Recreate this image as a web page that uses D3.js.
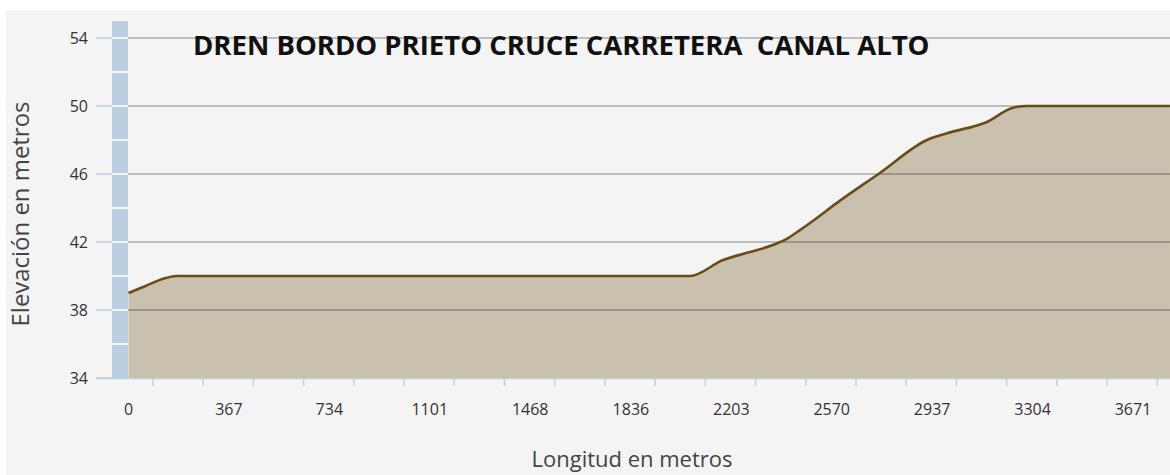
<!DOCTYPE html>
<html>
<head>
<meta charset="utf-8">
<script src="https://cdn.jsdelivr.net/npm/d3@7"></script>
<style>
  html, body { margin: 0; padding: 0; background: #ffffff; }
  svg { display: block; }
  text { font-family: "Open Sans", "Noto Sans", sans-serif; }
</style>
</head>
<body>
<script>
// perfil de elevacion
let distancias  = [0, 60, 130, 175, 600, 1200, 1800, 2052, 2173, 2271, 2355, 2407, 2454, 2502, 2589, 2746, 2918, 2991, 3137, 3232, 3284, 3400, 3806];
let elevaciones = [39, 39.4, 39.85, 40, 40, 40, 40, 40, 40.94, 41.41, 41.82, 42.2, 42.7, 43.25, 44.3, 46.06, 48.0, 48.4, 49.06, 49.9, 50, 50, 50];

let etiquetasX = [0, 367, 734, 1101, 1468, 1836, 2203, 2570, 2937, 3304, 3671];
let etiquetasY = [34, 38, 42, 46, 50, 54];
let titulo = "DREN BORDO PRIETO CRUCE CARRETERA\u00a0\u00a0CANAL ALTO";

let width = 1170, height = 475;

let svg = d3.select("body").append("svg")
            .attr("width", width)
            .attr("height", height);

// fondo
svg.append("rect")
   .attr("x", 6).attr("y", 10)
   .attr("width", width - 6).attr("height", height - 10)
   .attr("fill", "#f4f4f4");

let x = d3.scaleLinear().domain([0, 3671]).range([128.5, 1133]);
let y = d3.scaleLinear().domain([34, 55]).range([378, 21]);

let datos = distancias.map(function(d, i) { return {dist: d, elev: elevaciones[i]}; });

// linea base del eje x (azul claro)
svg.append("line")
   .attr("x1", 96).attr("x2", width)
   .attr("y1", y(34) + 0.5).attr("y2", y(34) + 0.5)
   .attr("stroke", "#bcd0e2").attr("stroke-width", 1.5);

// area
let area = d3.area()
             .x(function(d) { return x(d.dist); })
             .y0(y(34))
             .y1(function(d) { return y(d.elev); })
             .curve(d3.curveMonotoneX);

svg.append("path")
   .datum(datos)
   .attr("d", area)
   .attr("fill", "#c9c0ae");

// lineas de cuadricula
etiquetasY.filter(function(v) { return v > 34; }).forEach(function(v) {
  svg.append("line")
     .attr("x1", 128).attr("x2", width)
     .attr("y1", y(v)).attr("y2", y(v))
     .attr("stroke", "#000").attr("stroke-opacity", 0.3)
     .attr("stroke-width", 1.4);
});

// barra azul del eje y
svg.append("rect")
   .attr("x", 112).attr("y", y(55))
   .attr("width", 16).attr("height", y(34) - y(55))
   .attr("fill", "#bccfe0");

d3.range(36, 55, 2).forEach(function(v) {
  svg.append("line")
     .attr("x1", 112).attr("x2", 128)
     .attr("y1", y(v)).attr("y2", y(v))
     .attr("stroke", "#ffffff").attr("stroke-width", 1.6);
});

// marcas del eje y
etiquetasY.forEach(function(v) {
  svg.append("line")
     .attr("x1", 96).attr("x2", 112)
     .attr("y1", y(v)).attr("y2", y(v))
     .attr("stroke", "#bcd0e2").attr("stroke-width", 1.5);
  svg.append("text")
     .attr("x", 88).attr("y", y(v))
     .attr("dy", "0.35em")
     .attr("text-anchor", "end")
     .attr("font-size", 16)
     .attr("fill", "#333")
     .text(v);
});

// marcas del eje x (desplazadas respecto a las etiquetas, como en el original)
d3.range(89.5, 3806, 183.5).forEach(function(v) {
  svg.append("line")
     .attr("x1", x(v)).attr("x2", x(v))
     .attr("y1", y(34) + 1).attr("y2", y(34) + 8)
     .attr("stroke", "#bcd0e2").attr("stroke-width", 1.5);
});

etiquetasX.forEach(function(v) {
  svg.append("text")
     .attr("x", x(v)).attr("y", 415)
     .attr("text-anchor", "middle")
     .attr("font-size", 16)
     .attr("fill", "#333")
     .text(v);
});

// linea del perfil
let linea = d3.line()
              .x(function(d) { return x(d.dist); })
              .y(function(d) { return y(d.elev); })
              .curve(d3.curveMonotoneX);

svg.append("path")
   .datum(datos)
   .attr("d", linea)
   .attr("fill", "none")
   .attr("stroke", "#6b4c17")
   .attr("stroke-width", 2.6);

// ajusta el tamano de fuente para que el texto ocupe el ancho del original
function ajustar(t, ancho) {
  let w = t.node().getComputedTextLength();
  let fs = +t.attr("font-size");
  t.attr("font-size", fs * ancho / w);
}

let tit = svg.append("text")
             .attr("x", 193).attr("y", 55)
             .attr("font-size", 20)
             .attr("font-weight", "bold")
             .attr("fill", "#111")
             .text(titulo);
ajustar(tit, 737);

let ty = svg.append("text")
            .attr("transform", "translate(29," + 214 + ") rotate(-90)")
            .attr("text-anchor", "middle")
            .attr("font-size", 16)
            .attr("fill", "#444")
            .text("Elevación en metros");
ajustar(ty, 225);

let tx = svg.append("text")
            .attr("x", 632).attr("y", 467)
            .attr("text-anchor", "middle")
            .attr("font-size", 16)
            .attr("fill", "#444")
            .text("Longitud en metros");
ajustar(tx, 201);
</script>
</body>
</html>
